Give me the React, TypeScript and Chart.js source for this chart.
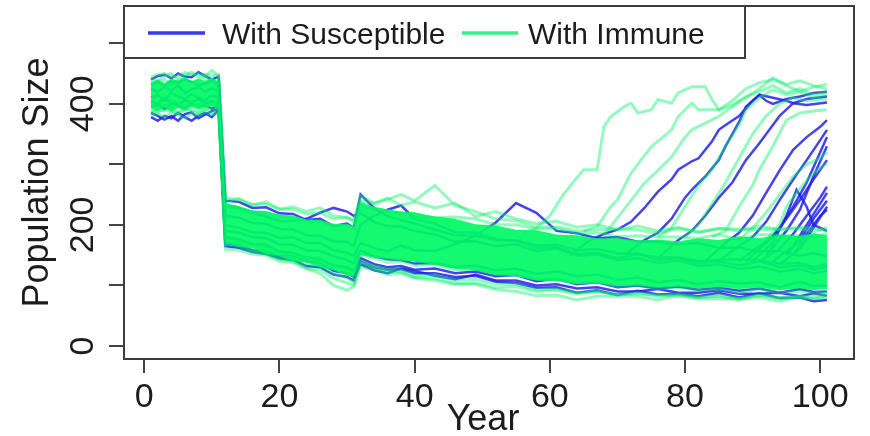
import React, { useEffect, useRef } from "react";
import { Chart, registerables } from "chart.js";
Chart.register(...registerables);

// ---- axes ----
const X_TICKS = [0, 20, 40, 60, 80, 100];
const Y_TICKS = [0, 100, 200, 300, 400, 500];
const Y_LABELED = [0, 200, 400];
const LEGEND_LABELS = ["With Susceptible", "With Immune"];

// sampled years shared by the full-length runs
const YEARS = [1,2,3,4,5,6,7,8,9,10,11,12, 14,16,18,20,22,24,26,28,30, 31,32, 34,36,38,40,
  43,46,49,52,55,58,61,64,67,70,73,76,79,82,85,88,91,94,97, 99,101];

// dense core of the green runs (upper / lower envelope)
const BAND_UPPER = [436,440,434,442,438,444,437,441,438,443,436,236, 231,224,223,217,215,209,208,202,201, 198,238, 230,226,222,221,
  214,210,201,199,192,191,184,183,178,178,174,176,173,178,175,181,178,184,181, 186,183];
const BAND_LOWER = [392,388,394,387,393,389,395,390,393,396,392,170, 164,161,152,148,140,138,130,125,116, 114,150, 146,143,141,139,
  134,128,125,117,115,108,107,102,103,99,100,96,98,95,97,94,96,92,95, 92,94];

// susceptible runs (blue)
const BLUE_1 = [378,372,380,376,385,378,372,380,385,378,390,165, 162,155,152,145,142,132,130,118,114, 108,140, 130,126,127,120,
  120,114,116,106,104,96,97,88,92,84,91,85,86,82,88,80,87,79,80, 74,76];
const BLUE_2 = [385,380,374,380,372,383,386,376,382,388,392,170, 166,158,157,148,148,140,137,124,120, 114,135, 125,120,128,124,
  116,110,118,108,108,100,102,95,97,90,90,94,88,88,92,86,86,88,82, 87,83];
const BLUE_3 = [440,446,448,442,450,445,444,452,446,440,445,240, 238,228,229,219,218,208,210,198,202, 195,250, 228,214,208,202,
  192,183,182,175,174,162,163,152,154,145,152,142,145,137,140,133,140,130,133, 126,131];
const BLUE_4 = [432,436,430,438,434,440,436,430,434,438,430,232, 228,220,214,206,207,210,220,228,222, 215,220, 205,198,197,190,
  184,172,173,165,168,157,161,149,151,142,145,137,141,132,135,127,131,123,127, 120,124];
const BLUE_5 = [410,415,405,418,412,408,416,410,405,414,410,200, 195,188,187,178,180,170,170,158,154, 148,170, 162,156,166,158,
  157,168,182,204,236,220,190,186,178,180,172,172,168,170,162,162,156,157,149, 153,148];
const BLUE_6 = [425,420,428,422,430,418,424,428,420,426,420,215, 212,203,202,193,192,183,182,173,172, 165,200, 215,225,232,210,
  202,188,187,176,174,166,167,158,160,153,152,146,147,140,142,143,141,136,137, 130,135];
const BLUE_7 = [395,398,392,400,396,394,400,396,398,392,398,180, 176,168,167,156,154,146,144,133,130, 124,145, 135,130,132,126,
  128,120,123,115,117,107,111,102,105,97,100,95,98,93,96,91,95,88,94, 89,90];
const BLUE_8 = [405,400,410,402,398,406,402,408,400,404,402,190, 187,180,178,168,167,158,157,148,142, 136,158, 148,143,142,136,
  137,130,133,125,128,119,123,115,118,109,113,105,109,102,107,103,105,97,106, 99,100];

// immune runs (green)
const GREEN_1 = [390,386,392,388,384,390,392,386,390,394,392,168, 165,156,152,143,140,128,120,100,92, 98,140, 132,126,126,116,
  117,108,110,102,102,93,94,88,90,84,86,84,82,80,82,76,84,78,80, 78,83];
const GREEN_2 = [445,448,450,444,446,452,448,450,445,455,446,245, 241,234,234,226,226,218,220,210,212, 205,240, 235,242,250,240,
  265,232,222,210,207,196,197,190,192,193,192,186,194,188,194,193,192,193,194, 188,196];
const GREEN_3 = [430,435,440,432,438,442,436,440,444,438,435,230, 226,220,220,213,213,206,206,198,200, 195,232, 226,220,220,213,
  212,213,210,200,200,193,194,186,187,180,182,180,180,178,184,176,184,183,182, 180,186];
const GREEN_4 = [398,402,396,405,400,396,404,398,402,400,398,178, 173,166,164,154,152,144,142,130,127, 120,150, 145,138,140,133,
  134,126,126,118,117,110,110,104,106,98,100,94,97,92,94,88,94,88,90, 88,90];
const GREEN_5 = [385,390,388,395,386,392,388,384,392,386,390,172, 169,158,157,146,144,134,132,120,112, 106,138, 130,123,122,113,
  112,103,102,93,90,83,84,76,82,82,82,76,84,78,78,78,80,74,82, 82,86];
const GREEN_6 = [442,438,446,450,440,447,452,444,449,446,448,238, 244,232,238,226,230,222,228,215,212, 208,248, 236,244,232,238,
  228,236,214,222,210,202,206,196,200,192,198,190,196,188,194,190,198,192,196, 194,190];
const GREEN_7 = [380,384,378,386,382,376,384,380,386,382,384,160, 158,152,150,140,138,128,126,112,104, 100,130, 126,118,120,112,
  108,102,104,96,98,90,92,86,90,84,88,82,86,80,84,78,84,80,82, 78,80];

// outbreak runs leaving the band: [year, population]
const RISE_BLUE_1 = [[63,150],[66,175],[68,185],[70,192],[72,205],[74,228],[76,255],[78,275],[79,291],[81,305],[82,310],[84,338],[85,357],[86,365],[88,380],[89,392],[90,405],[91,414],[92,405],[93,400],[95,408],[97,412],[99,418],[101,420]];
const RISE_BLUE_2 = [[71,150],[74,175],[76,187],[78,210],[80,245],[81,258],[83,280],[85,307],[86,330],[88,370],[89,395],[91,415],[93,410],[95,405],[96,401],[98,408],[101,412]];
const RISE_BLUE_3 = [[76,145],[79,175],[81,190],[83,215],[85,245],[87,270],[89,307],[91,335],[93,365],[94,380],[96,401],[98,398],[101,402]];
const RISE_BLUE_4 = [[83,140],[86,170],[88,187],[90,215],[92,253],[94,290],[96,324],[98,345],[100,362],[101,373]];
const RISE_BLUE_5 = [[85,140],[88,165],[90,180],[92,205],[94,241],[96,275],[98,307],[100,340],[101,357]];
const RISE_BLUE_6 = [[88,140],[91,165],[93,180],[95,210],[97,241],[99,275],[101,307]];
const RISE_BLUE_7 = [[91,140],[94,160],[96,185],[98,215],[100,245],[101,263]];
const RISE_BLUE_8 = [[93,140],[96,165],[98,200],[100,235],[101,253]];
const RISE_BLUE_9 = [[90,140],[93,170],[95,215],[96.5,258],[98,230],[99,200],[101,190]];
const RISE_BLUE_10 = [[89,140],[92,170],[94,195],[96,230],[98,270],[100,320],[101,345]];
const RISE_BLUE_11 = [[94,135],[97,160],[99,195],[101,230]];
const RISE_BLUE_12 = [[95,150],[97,175],[99,210],[101,240]];
const RISE_BLUE_13 = [[92,150],[95,190],[97,225],[99,280],[101,330]];
const RISE_BLUE_14 = [[96,150],[98,185],[100,215],[101,225]];

const RISE_GREEN_1 = [[56,185],[58,195],[60,215],[62,250],[64,278],[65,291],[67,291],[68,362],[69,379],[71,395],[72,401],[73,385],[75,390],[76,407],[78,401],[79,418],[81,428],[83,428],[84,407],[85,390],[87,398],[89,412],[91,420],[93,430],[95,418],[97,425],[99,415],[101,420]];
const RISE_GREEN_2 = [[65,190],[67,197],[69,230],[70,241],[72,285],[73,300],[75,329],[78,357],[79,379],[81,401],[82,390],[85,390],[87,405],[89,425],[91,435],[93,440],[95,432],[97,438],[99,430],[101,425]];
const RISE_GREEN_3 = [[68,185],[69,197],[72,240],[74,269],[76,290],[78,312],[80,345],[81,357],[83,368],[85,379],[87,395],[89,410],[91,425],[93,443],[95,430],[97,420],[99,428],[101,432]];
const RISE_GREEN_4 = [[76,180],[78,195],[80,230],[82,265],[84,291],[86,330],[88,365],[89,390],[91,410],[93,423],[95,415],[97,420],[99,410],[101,415]];
const RISE_GREEN_5 = [[84,180],[86,190],[88,230],[90,265],[91,291],[93,330],[95,373],[97,385],[99,388],[101,390]];
const RISE_GREEN_6 = [[92,175],[94,200],[95,230],[97,260],[99,285],[101,302]];
const RISE_GREEN_7 = [[88,175],[90,195],[92,220],[94,250],[96,280],[98,300],[100,310],[101,320]];
const RISE_GREEN_8 = [[80,180],[82,200],[84,235],[86,270],[88,310],[90,350],[92,380],[94,400],[96,410],[98,405],[101,408]];

const FONT = '"Liberation Sans", Arial, Helvetica, sans-serif';
const BLUE = "rgba(35,35,235,0.85)";
const GREEN_LINE = "rgba(0,240,100,0.42)";
const GREEN_CORE = "rgba(0,250,100,0.92)";

const toXY = (vals: number[]) => YEARS.map((x, i) => ({ x, y: vals[i] }));
const fromPairs = (arr: number[][]) => arr.map(([x, y]) => ({ x, y }));

const decor = {
  id: "decor",
  afterDraw(chart: any) {
    const { ctx, chartArea: a, scales } = chart;
    const xs = scales.x, ys = scales.y;
    ctx.save();
    ctx.strokeStyle = "#3c3c3c";
    ctx.lineWidth = 2;
    ctx.strokeRect(a.left, a.top, a.right - a.left, a.bottom - a.top);

    ctx.fillStyle = "#1c1c1c";
    ctx.font = `34px ${FONT}`;
    ctx.textAlign = "center";
    ctx.textBaseline = "alphabetic";
    X_TICKS.forEach((v) => ctx.fillText(String(v), xs.getPixelForValue(v), 407));
    Y_LABELED.forEach((v) => {
      ctx.save();
      ctx.translate(93, ys.getPixelForValue(v));
      ctx.rotate(-Math.PI / 2);
      ctx.fillText(String(v), 0, 0);
      ctx.restore();
    });

    ctx.font = `36px ${FONT}`;
    ctx.fillText("Year", (a.left + a.right) / 2 - 6, 430);
    ctx.save();
    ctx.translate(48, (a.top + a.bottom) / 2);
    ctx.rotate(-Math.PI / 2);
    ctx.fillText("Population Size", 0, 0);
    ctx.restore();

    // legend
    const lx = a.left, ly = a.top, lw = 621, lh = 52;
    ctx.fillStyle = "#ffffff";
    ctx.fillRect(lx, ly, lw, lh);
    ctx.strokeStyle = "#3c3c3c";
    ctx.lineWidth = 2;
    ctx.strokeRect(lx, ly, lw, lh);
    ctx.lineWidth = 3.5;
    ctx.strokeStyle = "rgba(35,35,235,0.9)";
    ctx.beginPath(); ctx.moveTo(148, 33); ctx.lineTo(205, 33); ctx.stroke();
    ctx.strokeStyle = "rgba(0,238,110,0.8)";
    ctx.beginPath(); ctx.moveTo(462, 33); ctx.lineTo(518, 33); ctx.stroke();
    ctx.fillStyle = "#1c1c1c";
    ctx.font = `30px ${FONT}`;
    ctx.textAlign = "left";
    ctx.fillText(LEGEND_LABELS[0], 222, 44);
    ctx.fillText(LEGEND_LABELS[1], 528, 44);
    ctx.restore();
  },
};

export default function App() {
  const ref = useRef<HTMLCanvasElement>(null);
  useEffect(() => {
    if (!ref.current) return;
    const blueRuns = [BLUE_1, BLUE_2, BLUE_3, BLUE_4, BLUE_5, BLUE_6, BLUE_7, BLUE_8];
    const greenRuns = [GREEN_1, GREEN_2, GREEN_3, GREEN_4, GREEN_5, GREEN_6, GREEN_7];
    const blueRises = [RISE_BLUE_1, RISE_BLUE_2, RISE_BLUE_3, RISE_BLUE_4, RISE_BLUE_5, RISE_BLUE_6, RISE_BLUE_7,
      RISE_BLUE_8, RISE_BLUE_9, RISE_BLUE_10, RISE_BLUE_11, RISE_BLUE_12, RISE_BLUE_13, RISE_BLUE_14];
    const greenRises = [RISE_GREEN_1, RISE_GREEN_2, RISE_GREEN_3, RISE_GREEN_4, RISE_GREEN_5, RISE_GREEN_6, RISE_GREEN_7, RISE_GREEN_8];

    const datasets: any[] = [];
    blueRuns.forEach((r) => datasets.push({ data: toXY(r), borderColor: BLUE, borderWidth: 2.5, order: 3, fill: false }));
    blueRises.forEach((r) => datasets.push({ data: fromPairs(r), borderColor: BLUE, borderWidth: 2.5, order: 3, fill: false }));
    datasets.push({ data: toXY(BAND_UPPER), borderWidth: 0, borderColor: "rgba(0,0,0,0)", backgroundColor: GREEN_CORE, fill: "+1", order: 2 });
    datasets.push({ data: toXY(BAND_LOWER), borderWidth: 0, borderColor: "rgba(0,0,0,0)", fill: false, order: 2 });
    greenRuns.forEach((r) => datasets.push({ data: toXY(r), borderColor: GREEN_LINE, borderWidth: 3, order: 1, fill: false }));
    greenRises.forEach((r) => datasets.push({ data: fromPairs(r), borderColor: GREEN_LINE, borderWidth: 3, order: 1, fill: false }));

    const chart = new Chart(ref.current, {
      type: "line",
      data: { datasets },
      options: {
        animation: false,
        responsive: false,
        maintainAspectRatio: false,
        events: [],
        layout: { padding: { top: 6, right: 16, left: 0, bottom: 0 } },
        plugins: { legend: { display: false }, tooltip: { enabled: false }, filler: { propagate: false } },
        elements: { point: { radius: 0 }, line: { tension: 0 } },
        scales: {
          x: {
            type: "linear", min: -3, max: 105,
            afterBuildTicks: (s: any) => { s.ticks = X_TICKS.map((v) => ({ value: v })); },
            afterFit: (s: any) => { s.height = 77; },
            ticks: { display: false },
            grid: { display: true, drawOnChartArea: false, drawTicks: true, tickLength: 14, color: "#444", lineWidth: 2 },
            border: { display: false },
          },
          y: {
            type: "linear", min: -21.6, max: 561.6,
            afterBuildTicks: (s: any) => { s.ticks = Y_TICKS.map((v) => ({ value: v })); },
            afterFit: (s: any) => { s.width = 124; },
            ticks: { display: false },
            grid: { display: true, drawOnChartArea: false, drawTicks: true, tickLength: 15, color: "#444", lineWidth: 2 },
            border: { display: false },
          },
        },
      },
      plugins: [decor],
    });
    return () => chart.destroy();
  }, []);
  return (
    <div style={{ position: "absolute", left: 0, top: 0, width: 870, height: 436, background: "#fff" }}>
      <canvas ref={ref} width={870} height={436} style={{ width: 870, height: 436, display: "block" }} />
    </div>
  );
}
